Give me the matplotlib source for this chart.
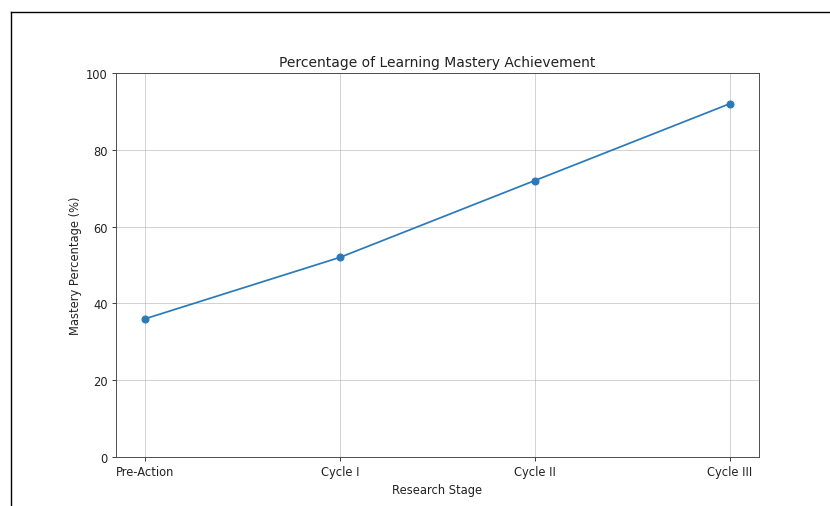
import matplotlib.pyplot as plt
from matplotlib.lines import Line2D

stages = ["Pre-Action", "Cycle I", "Cycle II", "Cycle III"]
mastery = [36, 52, 72, 92]

W, H, DPI = 830, 507, 83
fig = plt.figure(figsize=(W / DPI, H / DPI), dpi=DPI)

# screenshot frame around the embedded figure
fig.add_artist(Line2D([11 / W, 11 / W], [0, 1 - 13 / H], color="black", lw=1.2,
                      transform=fig.transFigure))
fig.add_artist(Line2D([11 / W, 1], [1 - 13 / H, 1 - 13 / H], color="black", lw=1.2,
                      transform=fig.transFigure))

ax = fig.add_axes([116 / W, (H - 458) / H, 643 / W, 384 / H])
x = range(len(stages))
ax.plot(x, mastery, marker="o", color="#2a7ab9")
ax.set_xticks(list(x))
ax.set_xticklabels(stages)
ax.set_ylim(0, 100)
ax.grid(True, alpha=0.6)
for s in ax.spines.values():
    s.set_color("#444444")
ax.tick_params(colors="#333333", labelcolor="#222222")
ax.set_title("Percentage of Learning Mastery Achievement", color="#222222")
ax.set_xlabel("Research Stage", color="#222222")
ax.set_ylabel("Mastery Percentage (%)", color="#222222")

fig.savefig("out.png", dpi=DPI)
